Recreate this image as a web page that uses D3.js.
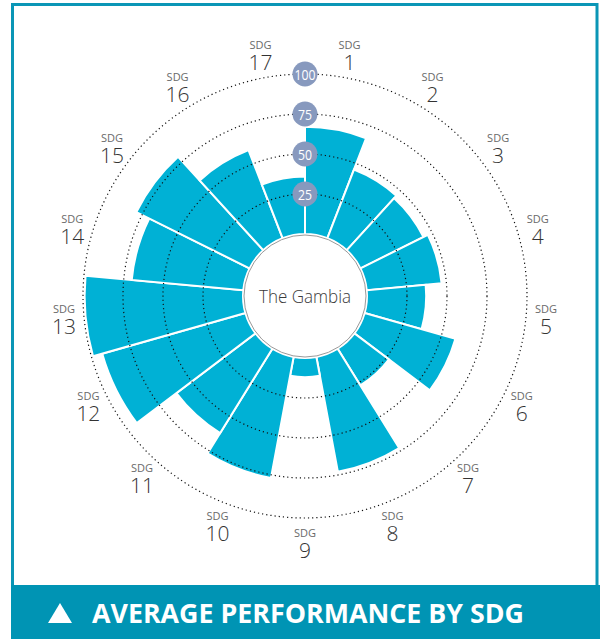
<!DOCTYPE html>
<html>
<head>
<meta charset="utf-8">
<script src="https://cdn.jsdelivr.net/npm/d3@7"></script>
<style>
  html, body { margin: 0; padding: 0; background: #fff; }
  svg { display: block; font-family: "Open Sans", "Noto Sans", sans-serif; }
</style>
</head>
<body>
<svg id="chart" width="601" height="639"></svg>
<script>
// SDG goal numbers and average score per goal (0-100)
const goals = ['1', '2', '3', '4', '5', '6', '7', '8', '9', '10', '11', '12', '13', '14', '15', '16', '17'];
const scores = [67, 46, 44, 47, 37, 59, 27, 73, 12, 77, 62, 93, 99, 70, 79, 59, 36];
const ringTicks = [25, 50, 75, 100];
const country = 'The Gambia';
const title = 'AVERAGE PERFORMANCE BY SDG';

const W = 601, H = 639;
const cx = 305, cy = 296;
const innerR = 62, outerR = 222;

const svg = d3.select('#chart');

// frame + footer band
svg.append('rect')
  .attr('x', 12.5).attr('y', 4.5)
  .attr('width', 584.5).attr('height', 585)
  .attr('fill', '#fff')
  .attr('stroke', '#0a96b6')
  .attr('stroke-width', 3);

svg.append('rect')
  .attr('x', 11).attr('y', 585)
  .attr('width', 589).attr('height', H - 585)
  .attr('fill', '#0094b4');

svg.append('path')
  .attr('d', 'M48,623 L60,603 L72,623 Z')
  .attr('fill', '#fff');

svg.append('text')
  .attr('x', 92).attr('y', 623)
  .attr('fill', '#fff')
  .attr('font-size', 26)
  .attr('font-weight', 700)
  .attr('textLength', 432)
  .attr('lengthAdjust', 'spacingAndGlyphs')
  .text(title);

const g = svg.append('g').attr('transform', `translate(${cx},${cy})`);

const angle = d3.scaleBand()
  .domain(goals)
  .range([0, 2 * Math.PI]);

const r = d3.scaleLinear()
  .domain([0, 100])
  .range([innerR, outerR]);

const arc = d3.arc()
  .innerRadius(innerR)
  .outerRadius(d => r(d.value))
  .startAngle(d => angle(d.goal))
  .endAngle(d => angle(d.goal) + angle.bandwidth());

const barData = goals.map((goal, i) => ({ goal, value: scores[i] }));

// bars
g.append('g')
  .selectAll('path')
  .data(barData)
  .join('path')
  .attr('d', arc)
  .attr('fill', '#00b1d5')
  .attr('stroke', '#fff')
  .attr('stroke-width', 2)
  .attr('stroke-linejoin', 'miter');

// dotted rings on top of bars
g.append('g')
  .selectAll('circle')
  .data(ringTicks)
  .join('circle')
  .attr('r', d => r(d))
  .attr('fill', 'none')
  .attr('stroke', '#111')
  .attr('stroke-width', 1.2)
  .attr('stroke-dasharray', '1.2 3');

// centre disc
g.append('circle')
  .attr('r', innerR - 1)
  .attr('fill', '#fff')
  .attr('stroke', '#9a9a9a')
  .attr('stroke-width', 1);

g.append('text')
  .attr('text-anchor', 'middle')
  .attr('dominant-baseline', 'central')
  .attr('font-size', 18)
  .attr('font-weight', 300)
  .attr('fill', '#3a3a3a')
  .attr('textLength', 92)
  .attr('lengthAdjust', 'spacingAndGlyphs')
  .text(country);

// ring value badges
const badge = g.append('g')
  .selectAll('g')
  .data(ringTicks)
  .join('g')
  .attr('transform', d => `translate(0,${-r(d)})`);

badge.append('circle')
  .attr('r', 12.5)
  .attr('fill', '#8799be');

badge.append('text')
  .attr('text-anchor', 'middle')
  .attr('dominant-baseline', 'central')
  .attr('fill', '#fff')
  .attr('font-size', 15)
  .attr('textLength', d => d >= 100 ? 21 : 14)
  .attr('lengthAdjust', 'spacingAndGlyphs')
  .text(d => d);

// goal labels around the outside (slightly taller ellipse than wide)
const labelRx = 242, labelRy = 246, labelCy = -1;
const lab = g.append('g')
  .selectAll('text')
  .data(goals)
  .join('text')
  .attr('text-anchor', 'middle')
  .attr('transform', d => {
    const a = angle(d) + angle.bandwidth() / 2;
    return `translate(${labelRx * Math.sin(a)},${labelCy - labelRy * Math.cos(a)})`;
  });

lab.append('tspan')
  .attr('x', 0)
  .attr('y', -4.5)
  .attr('font-size', 11)
  .attr('fill', '#6a6a6a')
  .text('SDG');

lab.append('tspan')
  .attr('x', 0)
  .attr('y', 16.5)
  .attr('font-size', 21)
  .attr('font-weight', 300)
  .attr('fill', '#333')
  .text(d => d);
</script>
</body>
</html>
